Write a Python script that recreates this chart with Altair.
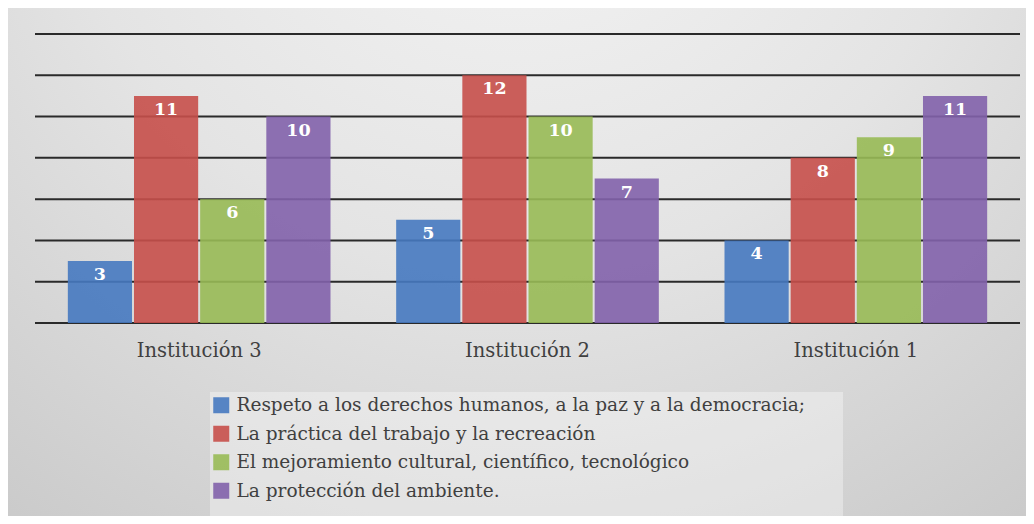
import altair as alt
import pandas as pd

instituciones = ["Institución 3", "Institución 2", "Institución 1"]
series = [
    "Respeto a los derechos humanos, a la paz y a la democracia;",
    "La práctica del trabajo y la recreación",
    "El mejoramiento cultural, científico, tecnológico",
    "La protección del ambiente.",
]
respeto = [3, 5, 4]
practica = [11, 12, 8]
mejoramiento = [6, 10, 9]
proteccion = [10, 7, 11]
gridlines = [0, 2, 4, 6, 8, 10, 12, 14]
colores = ["#4679c0", "#c64f4a", "#98ba55", "#8262ab"]

rows = []
for s, vals in zip(series, [respeto, practica, mejoramiento, proteccion]):
    for inst, v in zip(instituciones, vals):
        rows.append({"inst": inst, "serie": s, "valor": v})
df = pd.DataFrame(rows)
grid_df = pd.DataFrame({"g": gridlines})
one = pd.DataFrame({"a": [0]})

W, H = 985, 289
FONT = "DejaVu Serif"

yscale = alt.Scale(domain=[0, 14], nice=False, zero=True)

bg = alt.Chart(one).mark_rect(
    fill=alt.Gradient(
        gradient="radial",
        stops=[alt.GradientStop(color="#f6f6f6", offset=0),
               alt.GradientStop(color="#e4e4e4", offset=0.45),
               alt.GradientStop(color="#c2c2c2", offset=1)],
        x1=0.5, y1=0.05, r1=0.0, x2=0.5, y2=0.05, r2=1.0,
    )
).encode(x=alt.value(-27), x2=alt.value(W + 6), y=alt.value(-26), y2=alt.value(H + 193))

legend_bg = alt.Chart(one).mark_rect(fill="#ffffff", opacity=0.35).encode(
    x=alt.value(175), x2=alt.value(808), y=alt.value(358), y2=alt.value(H + 193)
)

grid = alt.Chart(grid_df).mark_rule(color="#2a2a2a", strokeWidth=2).encode(
    y=alt.Y("g:Q", scale=yscale, axis=None),
    x=alt.value(0), x2=alt.value(W),
    strokeWidth=alt.condition(alt.datum.g == 0, alt.value(3), alt.value(2)),
)

xenc = alt.X(
    "inst:N", sort=instituciones, title=None,
    scale=alt.Scale(paddingInner=0.2, paddingOuter=0.1),
    axis=alt.Axis(labelAngle=0, ticks=False, domain=False, grid=False,
                  labelFont=FONT, labelFontSize=19.5, labelColor="#404040",
                  labelPadding=18, zindex=2),
)
xoff = alt.XOffset("serie:N", sort=series, scale=alt.Scale(paddingInner=0.03))

bars = alt.Chart(df).mark_bar(fillOpacity=0.9).encode(
    x=xenc, xOffset=xoff,
    y=alt.Y("valor:Q", scale=yscale, axis=None),
    color=alt.Color("serie:N", sort=series,
                    scale=alt.Scale(domain=series, range=colores),
                    legend=alt.Legend(title=None, orient="none", legendX=177, legendY=362,
                                      symbolType="square", symbolSize=256,
                                      symbolStrokeWidth=0, symbolOpacity=0.9,
                                      labelFont=FONT, labelFontSize=18.5,
                                      labelColor="#404040", rowPadding=9.5,
                                      labelOffset=6, labelLimit=800)),
)

labels = alt.Chart(df).mark_text(
    color="white", font=FONT, fontSize=17.5, fontWeight="bold", baseline="top", dy=5
).encode(
    x=alt.X("inst:N", sort=instituciones), xOffset=xoff,
    y=alt.Y("valor:Q", scale=yscale, axis=None),
    text="valor:Q",
)

chart = alt.layer(bg, legend_bg, grid, bars, labels).properties(
    width=W, height=H,
    autosize=alt.AutoSizeParams(type="none"),
    padding={"left": 27, "top": 26, "right": 6, "bottom": 193},
).configure_view(stroke=None)

chart.save("out.html", embed_options={"renderer": "svg", "actions": False})
